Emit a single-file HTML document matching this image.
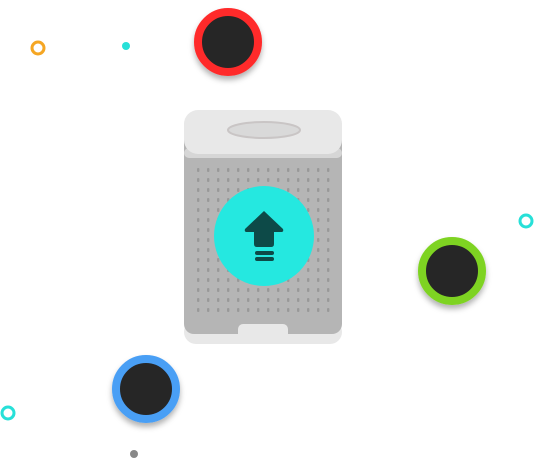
<!DOCTYPE html>
<html><head><meta charset="utf-8"><style>html,body{margin:0;padding:0;background:#fff;width:534px;height:458px;overflow:hidden}</style></head>
<body>
<svg width="534" height="458" viewBox="0 0 534 458" xmlns="http://www.w3.org/2000/svg">
<defs>
<filter id="sh" x="-30%" y="-30%" width="160%" height="170%"><feDropShadow dx="0" dy="4" stdDeviation="3" flood-color="#000" flood-opacity="0.3"/></filter>
<pattern id="dots" x="196" y="168" width="10" height="10" patternUnits="userSpaceOnUse"><rect x="1" y="0" width="2.4" height="4" rx="1" fill="#999"/></pattern>
</defs>
<!-- small decorations -->
<circle cx="38" cy="48" r="6" fill="none" stroke="#f5a623" stroke-width="3"/>
<circle cx="126" cy="46" r="4" fill="#27e0d8"/>
<circle cx="526" cy="221" r="6" fill="none" stroke="#27e0d8" stroke-width="3"/>
<circle cx="8" cy="413" r="6" fill="none" stroke="#27e0d8" stroke-width="3"/>
<circle cx="134" cy="454" r="4" fill="#888"/>
<!-- device -->
<rect x="184" y="320" width="158" height="24" rx="12" fill="#e8e8e8"/>
<rect x="184" y="118" width="158" height="216" rx="10" fill="#b5b5b5"/>
<rect x="194" y="166" width="138" height="150" fill="url(#dots)"/>
<rect x="238" y="324" width="50" height="20" rx="5" fill="#e8e8e8"/>
<rect x="184" y="148" width="158" height="10" rx="5" fill="#d6d6d6"/>
<rect x="184" y="110" width="158" height="44" rx="14" fill="#e8e8e8"/>
<ellipse cx="264" cy="130" rx="36" ry="8" fill="#d9d9d9" stroke="#c9c5c5" stroke-width="2"/>
<circle cx="264" cy="236" r="50" fill="#25e8e0"/>
<path d="M264 211 L245 229 Q244 232 247 232 L254 232 L254 244 Q254 247 257 247 L271 247 Q274 247 274 244 L274 232 L281 232 Q284 232 283 229 Z" fill="#0d4a48"/>
<rect x="255" y="251" width="19" height="4" rx="2" fill="#0d4a48"/>
<rect x="255" y="257" width="19" height="4" rx="2" fill="#0d4a48"/>
<!-- colored circles -->
<g filter="url(#sh)">
<circle cx="228" cy="42" r="30" fill="#252525" stroke="#ff2a2a" stroke-width="8"/>
<circle cx="452" cy="271" r="30" fill="#252525" stroke="#7ed321" stroke-width="8"/>
<circle cx="146" cy="389" r="30" fill="#252525" stroke="#4a9ff5" stroke-width="8"/>
</g>
</svg>
</body></html>
